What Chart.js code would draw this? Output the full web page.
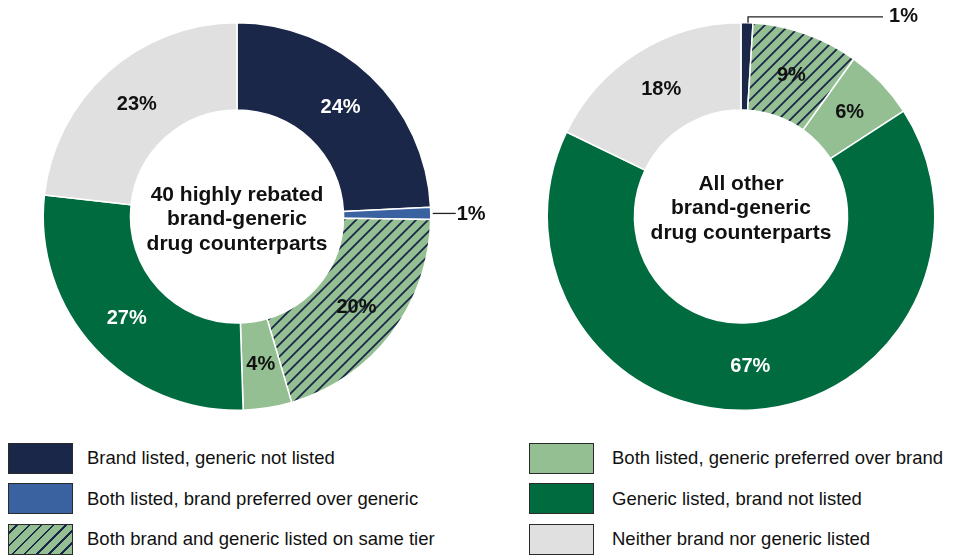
<!DOCTYPE html>
<html>
<head>
<meta charset="utf-8">
<script src="https://cdn.jsdelivr.net/npm/chart.js@4.4.1/dist/chart.umd.min.js"></script>
<style>
  html, body { margin: 0; padding: 0; background: #fff; }
  body { width: 963px; height: 557px; position: relative; overflow: hidden;
         font-family: "Liberation Sans", Arial, sans-serif; }
  #leftWrap  { position: absolute; left: 0;   top: 0; width: 490px; height: 430px; }
  #rightWrap { position: absolute; left: 490px; top: 0; width: 473px; height: 430px; }
  .legend-item { position: absolute; height: 32px; display: flex; align-items: center; }
  .swatch { width: 63px; height: 29px; border: 1.5px solid #2b2b2b; flex: none; }
  .legend-item span { font-size: 18.5px; color: #111; white-space: nowrap; }
</style>
</head>
<body>
<div id="leftWrap"><canvas id="leftChart" width="490" height="430"></canvas></div>
<div id="rightWrap"><canvas id="rightChart" width="473" height="430"></canvas></div>
<div id="legend"></div>

<script>
// Data
const categories = [
  'Brand listed, generic not listed',
  'Both listed, brand preferred over generic',
  'Both brand and generic listed on same tier',
  'Both listed, generic preferred over brand',
  'Generic listed, brand not listed',
  'Neither brand nor generic listed'
];
const rebatedValues = [24, 1, 20, 4, 27, 23];
const otherValues = [1, 0, 9, 6, 67, 18];
const rebatedTitle = ['40 highly rebated', 'brand-generic', 'drug counterparts'];
const otherTitle = ['All other', 'brand-generic', 'drug counterparts'];

const NAVY = '#1b2748';
const BLUE = '#3b62a0';
const LIGHT_GREEN = '#94bf92';
const DARK_GREEN = '#006b3f';
const GRAY = '#e0e0e0';

// Hatched fill: light green with navy diagonal stripes
function makeHatch() {
  const size = 12;
  const c = document.createElement('canvas');
  c.width = size; c.height = size;
  const g = c.getContext('2d');
  g.fillStyle = LIGHT_GREEN;
  g.fillRect(0, 0, size, size);
  g.strokeStyle = NAVY;
  g.lineWidth = 1.8;
  g.beginPath();
  g.moveTo(-2, size + 2); g.lineTo(size + 2, -2);
  g.moveTo(-2, 2); g.lineTo(2, -2);
  g.moveTo(size - 2, size + 2); g.lineTo(size + 2, size - 2);
  g.stroke();
  return g.createPattern(c, 'repeat');
}

const FONT = '"Liberation Sans", Arial, sans-serif';
const labelColors = ['#fff', '#111', '#111', '#111', '#fff', '#111'];

// Labels inside segments, centre title and callouts for small slices
const doughnutLabels = {
  id: 'doughnutLabels',
  afterDatasetsDraw(chart, args, opts) {
    const ctx = chart.ctx;
    const meta = chart.getDatasetMeta(0);
    const values = chart.data.datasets[0].data;
    ctx.save();
    ctx.textAlign = 'center';
    ctx.textBaseline = 'middle';

    meta.data.forEach((arc, i) => {
      const v = values[i];
      if (!v) return;
      const p = arc.getProps(['x', 'y', 'startAngle', 'endAngle', 'innerRadius', 'outerRadius'], true);
      const mid = (p.startAngle + p.endAngle) / 2;
      ctx.font = 'bold 20px ' + FONT;
      if (opts.callouts && opts.callouts[i]) {
        const ox = p.x + Math.cos(mid) * p.outerRadius;
        const oy = p.y + Math.sin(mid) * p.outerRadius;
        ctx.strokeStyle = '#222';
        ctx.lineWidth = 1.3;
        ctx.beginPath();
        ctx.fillStyle = '#111';
        ctx.textAlign = 'left';
        if (opts.callouts[i] === 'side') {
          ctx.moveTo(ox + 2, oy);
          ctx.lineTo(ox + 25, oy);
          ctx.stroke();
          ctx.fillText(v + '%', ox + 26, oy + 1);
        } else {
          ctx.moveTo(ox + 1, oy);
          ctx.lineTo(ox + 1, oy - 6);
          ctx.lineTo(ox + 136, oy - 6);
          ctx.stroke();
          ctx.fillText(v + '%', ox + 142, oy - 6);
        }
        ctx.textAlign = 'center';
        return;
      }
      const r = (p.innerRadius + p.outerRadius) / 2;
      ctx.fillStyle = labelColors[i];
      ctx.fillText(v + '%', p.x + Math.cos(mid) * r, p.y + Math.sin(mid) * r);
    });

    // centre title
    const c0 = meta.data[0];
    ctx.fillStyle = '#111';
    ctx.font = 'bold 21px ' + FONT;
    const lines = opts.title;
    lines.forEach((t, k) => {
      ctx.fillText(t, c0.x, c0.y + (k - (lines.length - 1) / 2) * 24.5 + opts.titleShift);
    });
    ctx.restore();
  }
};

function makeChart(id, values, title, titleShift, padding, callouts) {
  const hatch = makeHatch();
  return new Chart(document.getElementById(id), {
    type: 'doughnut',
    data: {
      labels: categories,
      datasets: [{
        data: values,
        backgroundColor: [NAVY, BLUE, hatch, LIGHT_GREEN, DARK_GREEN, GRAY],
        borderColor: '#fff',
        borderWidth: 1.5
      }]
    },
    options: {
      responsive: false,
      animation: false,
      cutout: '55%',
      layout: { padding },
      plugins: {
        legend: { display: false },
        tooltip: { enabled: false },
        doughnutLabels: { title, titleShift, callouts }
      }
    },
    plugins: [doughnutLabels]
  });
}

makeChart('leftChart', rebatedValues, rebatedTitle, 3,
  { left: 42, right: 58, top: 22, bottom: 19 }, { 1: 'side' });
makeChart('rightChart', otherValues, otherTitle, -8,
  { left: 56, right: 27, top: 22, bottom: 19 }, { 0: 'top' });

// Legend (two columns of three)
const swatchFills = [NAVY, BLUE,
  'repeating-linear-gradient(-45deg, ' + LIGHT_GREEN + ' 0 6.8px, ' + NAVY + ' 6.8px 8.6px)',
  LIGHT_GREEN, DARK_GREEN, GRAY];
const legendEl = document.getElementById('legend');
categories.forEach((name, i) => {
  const col = Math.floor(i / 3), row = i % 3;
  const item = document.createElement('div');
  item.className = 'legend-item';
  item.style.left = (col ? 529 : 8) + 'px';
  item.style.top = (442 + row * 40.5) + 'px';
  const sw = document.createElement('div');
  sw.className = 'swatch';
  sw.style.background = swatchFills[i];
  sw.style.marginRight = (col ? 18 : 14) + 'px';
  const label = document.createElement('span');
  label.textContent = name;
  item.appendChild(sw);
  item.appendChild(label);
  legendEl.appendChild(item);
});
</script>
</body>
</html>
